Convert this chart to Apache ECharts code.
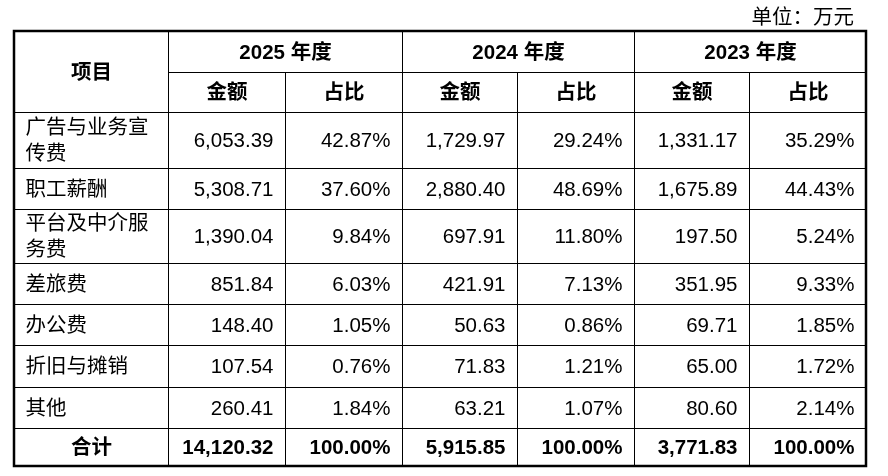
<!DOCTYPE html>
<html>
<head>
<meta charset="utf-8">
<script src="https://cdn.jsdelivr.net/npm/echarts@6/dist/echarts.min.js"></script>
<style>
  html, body { margin: 0; padding: 0; background: #ffffff; }
  #main { width: 888px; height: 476px; }
</style>
</head>
<body>
<div id="main"></div>
<script>
// table values
var unitText = '单位：万元';
var headItem = '项目';
var years = ['2025 年度', '2024 年度', '2023 年度'];
var subHeads = ['金额', '占比'];
var items = ['广告与业务宣\n传费', '职工薪酬', '平台及中介服\n务费', '差旅费', '办公费', '折旧与摊销', '其他'];
var amount2025 = [6053.39, 5308.71, 1390.04, 851.84, 148.40, 107.54, 260.41];
var share2025 = [42.87, 37.60, 9.84, 6.03, 1.05, 0.76, 1.84];
var amount2024 = [1729.97, 2880.40, 697.91, 421.91, 50.63, 71.83, 63.21];
var share2024 = [29.24, 48.69, 11.80, 7.13, 0.86, 1.21, 1.07];
var amount2023 = [1331.17, 1675.89, 197.50, 351.95, 69.71, 65.00, 80.60];
var share2023 = [35.29, 44.43, 5.24, 9.33, 1.85, 1.72, 2.14];
var totalLabel = '合计';
var totalAmounts = [14120.32, 5915.85, 3771.83];
var totalShares = [100, 100, 100];

// table geometry (axis units)
var colEdges = [0, 154, 271, 388, 503, 620, 735, 852];
var rowEdges = [0, 41, 81, 137, 178, 232, 273, 314, 356, 397, 435];

var FONT = '"Liberation Sans", Arial, "Noto Sans CJK SC", sans-serif';

function fmtAmount(v) {
    return v.toLocaleString('en-US', { minimumFractionDigits: 2, maximumFractionDigits: 2 });
}
function fmtShare(v) {
    return v.toFixed(2) + '%';
}

var cells = [];
function addCell(c0, c1, r0, r1, text, align, bold) {
    cells.push({
        value: [colEdges[c0], colEdges[c1], rowEdges[r0], rowEdges[r1]],
        text: text, align: align, bold: bold
    });
}

// header
addCell(0, 1, 0, 2, headItem, 'center', true);
years.forEach(function (y, i) {
    addCell(1 + i * 2, 3 + i * 2, 0, 1, y, 'center', true);
    subHeads.forEach(function (s, j) {
        addCell(1 + i * 2 + j, 2 + i * 2 + j, 1, 2, s, 'center', true);
    });
});

// body
var amounts = [amount2025, amount2024, amount2023];
var shares = [share2025, share2024, share2023];
items.forEach(function (name, r) {
    addCell(0, 1, r + 2, r + 3, name, 'left', false);
    for (var i = 0; i < 3; i++) {
        addCell(1 + i * 2, 2 + i * 2, r + 2, r + 3, fmtAmount(amounts[i][r]), 'right', false);
        addCell(2 + i * 2, 3 + i * 2, r + 2, r + 3, fmtShare(shares[i][r]), 'right', false);
    }
});

// total row
var tr = items.length + 2;
addCell(0, 1, tr, tr + 1, totalLabel, 'center', true);
for (var i = 0; i < 3; i++) {
    addCell(1 + i * 2, 2 + i * 2, tr, tr + 1, fmtAmount(totalAmounts[i]), 'right', true);
    addCell(2 + i * 2, 3 + i * 2, tr, tr + 1, fmtShare(totalShares[i]), 'right', true);
}

function renderCell(params, api) {
    var c = cells[params.dataIndex];
    var p0 = api.coord([api.value(0), api.value(2)]);
    var p1 = api.coord([api.value(1), api.value(3)]);
    var x0 = Math.round(p0[0]) + 0.5, y0 = Math.round(p0[1]) + 0.5;
    var x1 = Math.round(p1[0]) + 0.5, y1 = Math.round(p1[1]) + 0.5;
    var tx = c.align === 'left' ? x0 + 11 : (c.align === 'right' ? x1 - 12 : (x0 + x1) / 2);
    return {
        type: 'group',
        children: [{
            type: 'rect',
            shape: { x: x0, y: y0, width: x1 - x0, height: y1 - y0 },
            style: { fill: 'none', stroke: '#000', lineWidth: 1 }
        }, {
            type: 'text',
            style: {
                x: tx,
                y: (y0 + y1) / 2 + 1,
                text: c.text,
                align: c.align,
                verticalAlign: 'middle',
                fontSize: 20.5,
                fontFamily: FONT,
                fontWeight: c.bold ? 'bold' : 'normal',
                lineHeight: 26,
                fill: '#000'
            }
        }]
    };
}

function renderFrame(params, api) {
    var p0 = api.coord([api.value(0), api.value(2)]);
    var p1 = api.coord([api.value(1), api.value(3)]);
    return {
        type: 'rect',
        shape: { x: p0[0], y: p0[1], width: p1[0] - p0[0], height: p1[1] - p0[1] },
        style: { fill: 'none', stroke: '#000', lineWidth: 2.5 }
    };
}

var myChart = echarts.init(document.getElementById('main'));
myChart.setOption({
    backgroundColor: '#ffffff',
    animation: false,
    title: {
        text: unitText,
        right: 34,
        top: 8,
        padding: 0,
        textStyle: { fontSize: 20.5, fontWeight: 'normal', color: '#000', fontFamily: FONT }
    },
    grid: { left: 14, top: 31, width: 852, height: 435 },
    xAxis: { type: 'value', min: 0, max: colEdges[colEdges.length - 1], show: false },
    yAxis: { type: 'value', min: 0, max: rowEdges[rowEdges.length - 1], inverse: true, show: false },
    series: [{
        type: 'custom',
        renderItem: renderCell,
        clip: false,
        silent: true,
        data: cells.map(function (c) { return c.value; })
    }, {
        type: 'custom',
        renderItem: renderFrame,
        clip: false,
        silent: true,
        data: [[0, colEdges[colEdges.length - 1], 0, rowEdges[rowEdges.length - 1]]]
    }]
});
</script>
</body>
</html>
